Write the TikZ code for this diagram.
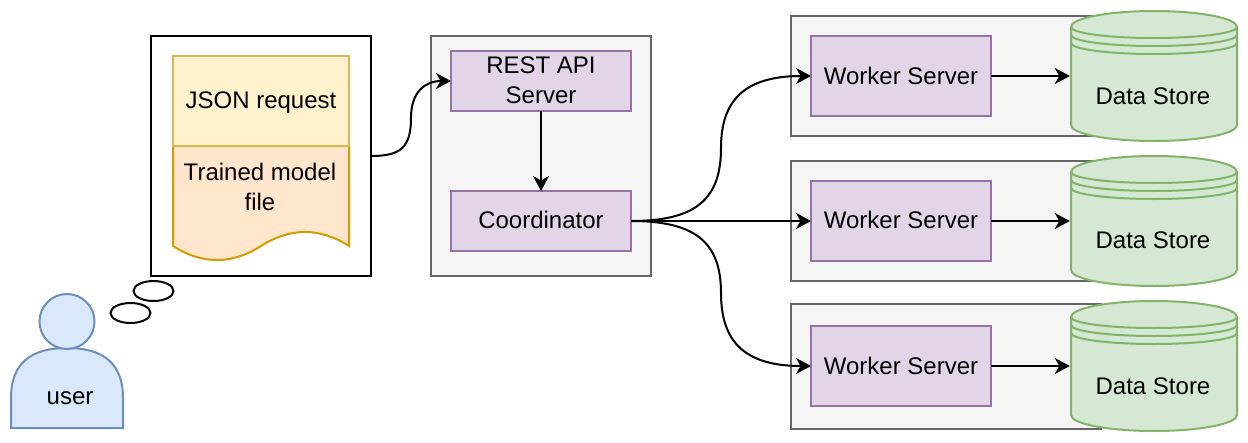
\documentclass[tikz,border=0pt]{standalone}
\usepackage{fontspec}
\setmainfont{Liberation Sans}
\usetikzlibrary{arrows.meta, positioning, shapes.geometric}

\tikzset{
    storeshape/.pic={
        \draw[draw=storeedge, fill=storefill, line width=2pt]
            (0,16) .. controls (0,7.2) and (37.2,0) .. (83,0)
            .. controls (128.8,0) and (166,7.2) .. (166,16)
            -- (166,114) .. controls (166,122.8) and (128.8,130) .. (83,130)
            .. controls (37.2,130) and (0,122.8) .. (0,114) -- cycle;
        \draw[draw=storeedge, line width=2pt]
            (0,16) .. controls (0,22.1) and (37.2,27) .. (83,27)
            .. controls (128.8,27) and (166,22.1) .. (166,16);
        \draw[draw=storeedge, line width=2pt]
            (0,24) .. controls (0,30.1) and (37.2,35) .. (83,35)
            .. controls (128.8,35) and (166,30.1) .. (166,24);
        \draw[draw=storeedge, line width=2pt]
            (0,32) .. controls (0,38.1) and (37.2,43) .. (83,43)
            .. controls (128.8,43) and (166,38.1) .. (166,32);
    }
}

\definecolor{purplefill}{HTML}{E1D5E7}
\definecolor{purpleedge}{HTML}{9673A6}
\definecolor{grayfill}{HTML}{F5F5F5}
\definecolor{grayedge}{HTML}{666666}
\definecolor{storefill}{HTML}{D5E8D4}
\definecolor{storeedge}{HTML}{82B366}
\definecolor{jsonfill}{HTML}{FFF2CC}
\definecolor{jsonedge}{HTML}{D6B656}
\definecolor{modelfill}{HTML}{FFE6CC}
\definecolor{modeledge}{HTML}{D79B00}
\definecolor{userfill}{HTML}{DAE8FC}
\definecolor{useredge}{HTML}{6C8EBF}

\begin{document}
\begin{tikzpicture}[
        x=1pt, y=-1pt,
        font=\fontsize{24}{30}\selectfont,
        box/.style={draw, line width=2pt, inner sep=0pt, outer sep=0pt, align=center},
        graybox/.style={box, draw=grayedge, fill=grayfill},
        server/.style={box, draw=purpleedge, fill=purplefill, minimum width=180pt},
        bubble/.style={ellipse, draw, line width=2pt, fill=white, inner sep=0pt, minimum width=40pt, minimum height=20pt},
        label/.style={inner sep=0pt, align=center},
        arrow/.style={-{Stealth[length=15pt, width=16pt, inset=4.5pt]}, line width=2pt}
    ]
    \useasboundingbox (0,0) rectangle (1248,442);

    % left part, what the user has in mind
    \node (thought) [box, minimum width=220pt, minimum height=240pt] at (261,156) {};
    \draw[draw=modeledge, fill=modelfill, line width=2pt]
        (173,146) -- (349,146) -- (349,246)
        .. controls (319.7,227.3) and (290.3,227.3) .. (261,246)
        .. controls (231.7,264.7) and (202.3,264.7) .. (173,246) -- cycle;
    \node (model) [label] at (260,186.5) {Trained model\\file};
    \node (json) [box, draw=jsonedge, fill=jsonfill, minimum width=176pt, minimum height=90pt, text height=20pt, text depth=5pt] at (261,101) {JSON request};

    \node (bubbletop) [bubble] at (153.5,291) {};
    \node (bubblelow) [bubble] at (130.5,313) {};

    \draw[draw=useredge, fill=userfill, line width=2pt]
        (11,428) -- (11,398) .. controls (11,364) and (30,348) .. (67,348)
        .. controls (104,348) and (123,364) .. (123,398) -- (123,428) -- cycle;
    \node (head) [circle, draw=useredge, fill=userfill, line width=2pt, minimum size=55pt, inner sep=0pt] at (67,321.5) {};
    \node (user) [label] at (70,398) {user};

    % API server
    \node (apibox) [graybox, minimum width=220pt, minimum height=240pt] at (541,156) {};
    \node (rest) [server, minimum height=60pt, text depth=2pt] at (541,81) {REST API\\Server};
    \node (coord) [server, minimum height=60pt, text depth=2pt] at (541,221) {Coordinator};

    % worker rows
    \node (rowa) [graybox, minimum width=310pt, minimum height=120pt] at (946,76) {};
    \node (rowb) [graybox, minimum width=310pt, minimum height=120pt] at (946,221) {};
    \node (rowc) [graybox, minimum width=310pt, minimum height=125pt] at (946,366.5) {};

    \node (workera) [server, minimum height=80pt] at (901,76) {Worker Server};
    \node (workerb) [server, minimum height=80pt, text depth=2pt] at (901,221) {Worker Server};
    \node (workerc) [server, minimum height=80pt] at (901,366) {Worker Server};

    \pic at (1071,11) {storeshape};
    \pic at (1071,156) {storeshape};
    \pic at (1071,301) {storeshape};
    \node (storea) [label, minimum width=166pt] at (1153,96) {Data Store};
    \node (storeb) [label, minimum width=166pt] at (1153,240) {Data Store};
    \node (storec) [label, minimum width=166pt] at (1153,386) {Data Store};

    \draw [arrow] (thought.east) .. controls (400,156) and (411,148) .. (411,118)
        .. controls (411,92) and (425,81) .. (rest.west);
    \draw [arrow] (rest) -- (coord);
    \draw [arrow] (coord.east) .. controls (695,221) and (721,200) .. (721,148)
        .. controls (721,100) and (745,76) .. (workera.west);
    \draw [arrow] (coord.east) -- (workerb.west);
    \draw [arrow] (coord.east) .. controls (695,221) and (721,242) .. (721,293)
        .. controls (721,342) and (745,366) .. (workerc.west);
    \draw [arrow] (workera) -- (workera -| storea.west);
    \draw [arrow] (workerb) -- (workerb -| storeb.west);
    \draw [arrow] (workerc) -- (workerc -| storec.west);

\end{tikzpicture}
\end{document}
